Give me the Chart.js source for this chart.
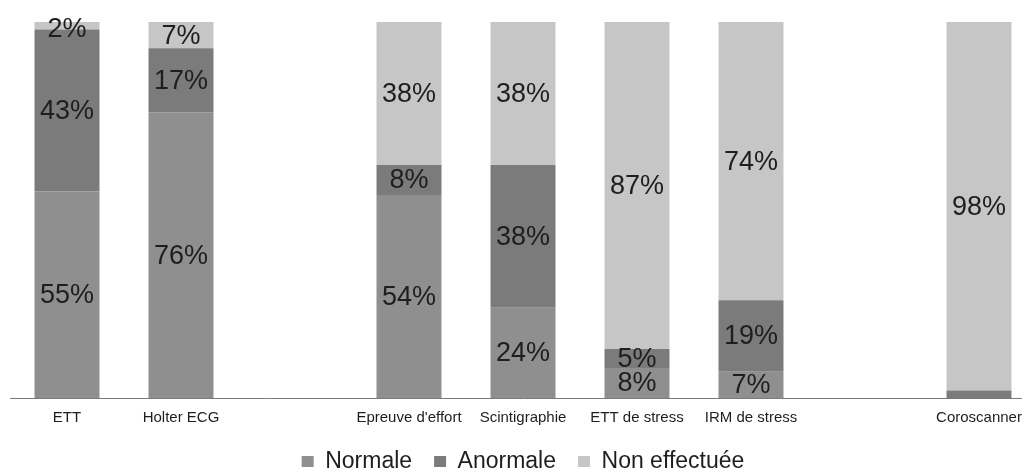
<!DOCTYPE html>
<html>
<head>
<meta charset="utf-8">
<script src="https://cdn.jsdelivr.net/npm/chart.js@4"></script>
<style>
  html, body { margin: 0; padding: 0; background: #fff; overflow: hidden; }
  #wrap { width: 1046px; height: 470px; position: relative; }
</style>
</head>
<body>
<div id="wrap"><canvas id="cadre"></canvas></div>
<script>
// categories (empty strings are the blank slots between groups)
const examens = ["ETT", "Holter ECG", "", "Epreuve d'effort", "Scintigraphie", "ETT de stress", "IRM de stress", "", "Coroscanner"];

// percentages
const normale = [55, 76, null, 54, 24, 8, 7, null, 0];
const anormale = [43, 17, null, 8, 38, 5, 19, null, 2];
const nonEffectuee = [2, 7, null, 38, 38, 87, 74, null, 98];

const legendes = ["Normale", "Anormale", "Non effectuée"];
const couleurs = ["#8f8f8f", "#7b7b7b", "#c6c6c6"];

const police = "'Liberation Sans', Arial, sans-serif";

// writes the % in the middle of each piece of bar
const etiquettes = {
  id: "etiquettes",
  afterDatasetsDraw(chart) {
    const ctx = chart.ctx;
    const last = chart.data.datasets.length - 1;
    ctx.save();
    ctx.font = "27px " + police;
    ctx.fillStyle = "#1e1e1e";
    ctx.textAlign = "center";
    ctx.textBaseline = "middle";
    chart.data.datasets.forEach((ds, i) => {
      chart.getDatasetMeta(i).data.forEach((bar, j) => {
        let v = ds.data[j];
        if (v == null || v === 0) return;
        if (v < 5 && i !== last) return;
        let y = (bar.y + bar.base) / 2 + 1;
        if (i === last && v < 5) y = bar.y + 8;
        ctx.fillText(v + "%", bar.x, y);
      });
    });
    ctx.restore();
  }
};

let canvas = document.getElementById("cadre");
const ctx = canvas.getContext("2d");

const graphique = new Chart(ctx, {
  type: "bar",
  data: {
    labels: examens,
    datasets: [
      { label: legendes[0], data: normale, backgroundColor: couleurs[0] },
      { label: legendes[1], data: anormale, backgroundColor: couleurs[1] },
      { label: legendes[2], data: nonEffectuee, backgroundColor: couleurs[2] },
    ],
  },
  options: {
    responsive: true,
    maintainAspectRatio: false,
    animation: false,
    layout: { padding: { left: 10, right: 10, top: 22, bottom: 0 } },
    datasets: { bar: { barPercentage: 0.57, categoryPercentage: 1 } },
    scales: {
      x: {
        stacked: true,
        grid: { display: false, drawTicks: false },
        border: { display: true, color: "#7a7a7a", width: 1 },
        ticks: {
          color: "#1e1e1e",
          font: { size: 15, family: police },
          padding: 11,
          maxRotation: 0,
          autoSkip: false,
        },
        afterFit: (scale) => { scale.height = 30; },
      },
      y: {
        stacked: true,
        display: false,
        min: 0,
        max: 100,
      },
    },
    plugins: {
      tooltip: { enabled: false },
      legend: {
        position: "bottom",
        maxHeight: 42,
        labels: {
          color: "#1e1e1e",
          font: { size: 23, family: police },
          boxWidth: 12,
          boxHeight: 11,
          padding: 22,
        },
      },
    },
  },
  plugins: [etiquettes],
});
</script>
</body>
</html>
